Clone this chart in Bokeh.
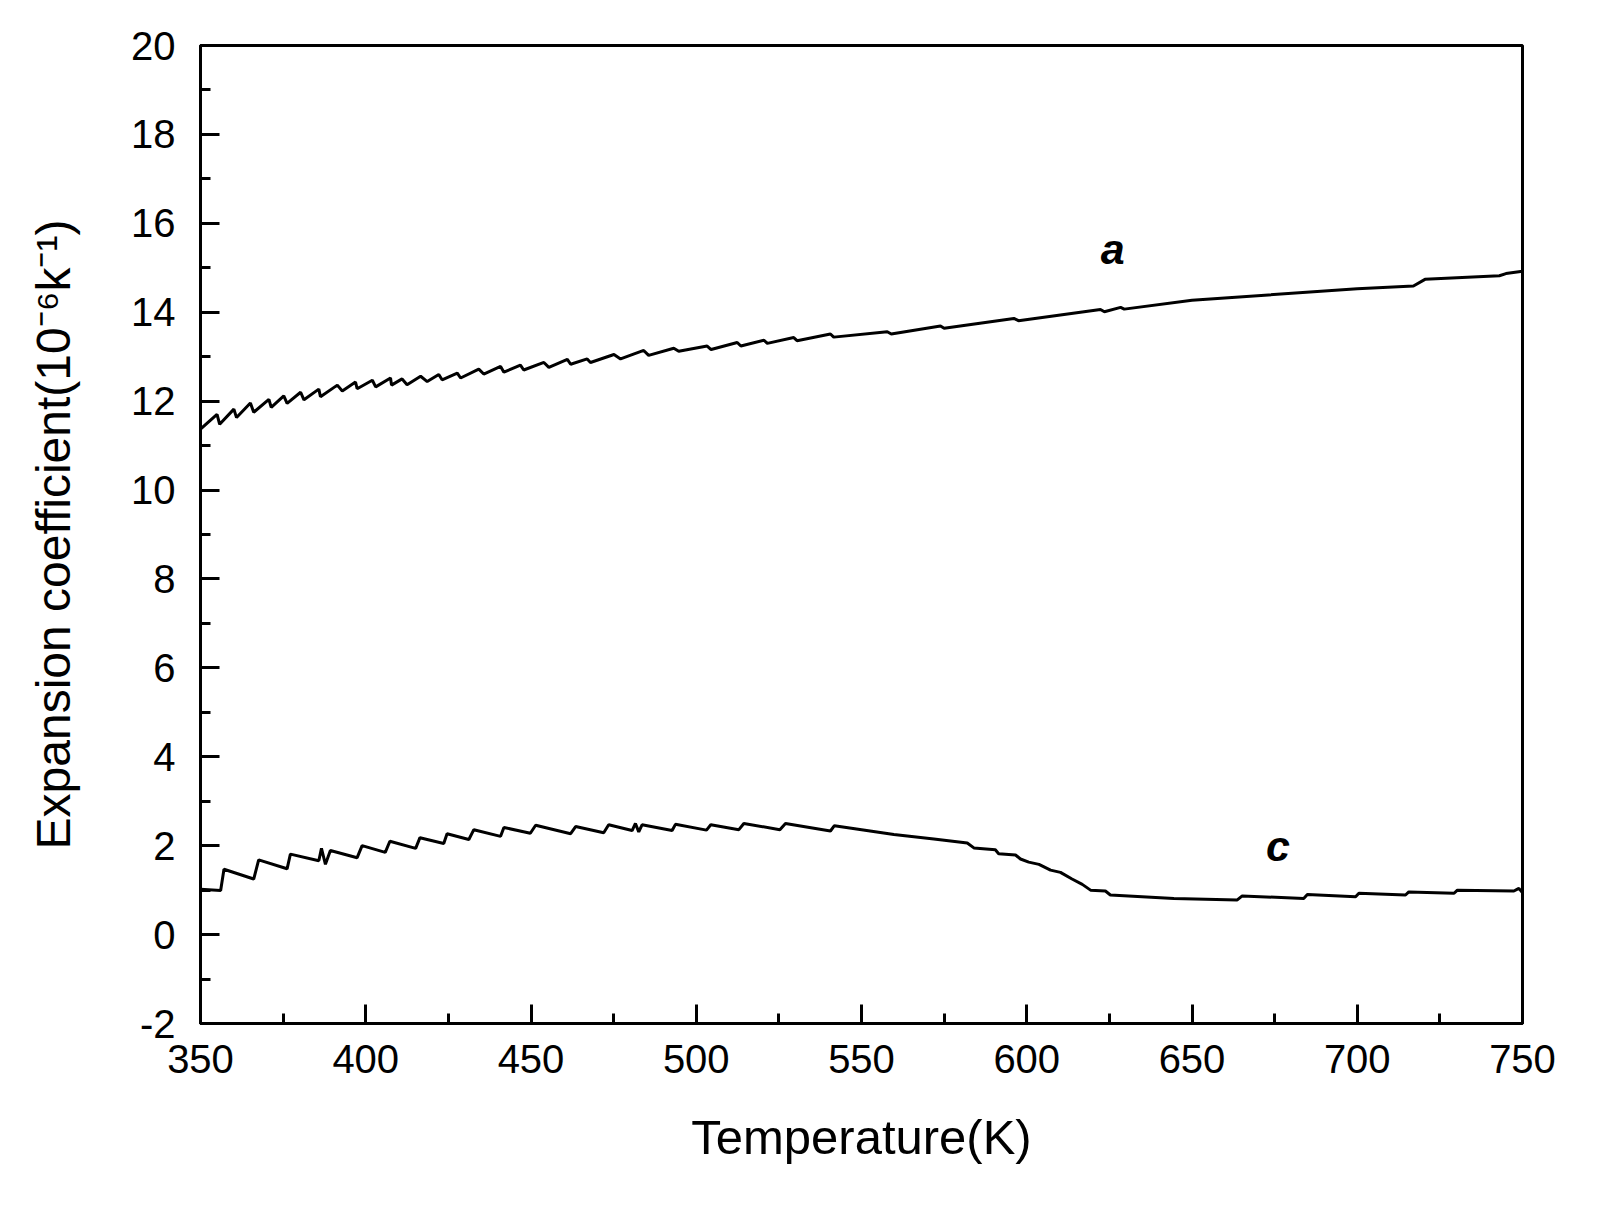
from bokeh.plotting import figure
from bokeh.models import SingleIntervalTicker, ColumnDataSource
from bokeh.embed import file_html
from bokeh.resources import INLINE
from bokeh.core.properties import value

# ---- data ----
temp_a = [350, 355.0, 355.8, 360.1, 360.9, 365.1, 366.1, 370.7, 371.4, 375.2, 376.2,
          380.3, 381.3, 385.8, 386.3, 391.4, 392.9, 396.9, 397.4, 402.0, 403.0,
          407.5, 407.8, 411.0, 412.5, 416.6, 418.6, 422.1, 423.1, 427.7, 428.7,
          434.2, 435.7, 440.8, 441.8, 446.8, 447.8, 453.9, 455.4, 461.0, 462.0,
          467.0, 468.0, 475.1, 477.1, 484.1, 485.6, 493.2, 494.7, 503.3, 504.5,
          512.4, 513.5, 520.5, 521.5, 529.5, 530.5, 540.6, 541.6, 557.8, 559.0,
          573.9, 575.0, 596.1, 597.5, 622.3, 623.5, 628.4, 629.5, 650.0, 700.0,
          717.0, 720.5, 743.0, 745.0, 750.0]
coef_a = [11.37, 11.70, 11.48, 11.82, 11.63, 11.96, 11.75, 12.04, 11.86, 12.12, 11.95,
          12.20, 12.03, 12.27, 12.10, 12.36, 12.23, 12.43, 12.28, 12.47, 12.32,
          12.52, 12.36, 12.50, 12.37, 12.56, 12.44, 12.60, 12.48, 12.63, 12.52,
          12.72, 12.61, 12.78, 12.65, 12.81, 12.70, 12.87, 12.76, 12.94, 12.83,
          12.95, 12.87, 13.05, 12.95, 13.14, 13.03, 13.19, 13.12, 13.24, 13.16,
          13.32, 13.24, 13.37, 13.30, 13.43, 13.36, 13.51, 13.44, 13.56, 13.51,
          13.69, 13.64, 13.86, 13.81, 14.06, 14.01, 14.11, 14.07, 14.27, 14.53,
          14.59, 14.74, 14.82, 14.87, 14.92]

temp_c = [350, 356.1, 357.1, 366.1, 367.6, 376.2, 377.2, 385.8, 386.6, 387.8, 389.3,
          397.4, 398.9, 405.9, 407.3, 415.1, 416.4, 423.6, 424.6, 431.2, 432.7,
          440.8, 441.8, 449.8, 451.4, 462.0, 463.5, 472.0, 473.5, 480.6, 481.6,
          482.6, 483.6, 492.7, 493.7, 503.1, 504.4, 512.9, 514.4, 525.3, 527.0,
          540.6, 541.8, 559.8, 571.9, 582.0, 584.0, 590.5, 591.5, 596.6, 598.1,
          600.6, 603.7, 607.2, 610.2, 613.7, 616.8, 619.3, 623.8, 625.3, 644.5,
          663.7, 665.2, 683.8, 684.9, 699.5, 700.5, 714.6, 715.6, 729.3, 730.3,
          747.4, 748.9, 749.9, 750.0]
coef_c = [1.02, 0.99, 1.47, 1.25, 1.68, 1.48, 1.81, 1.66, 1.94, 1.58, 1.89,
          1.73, 2.00, 1.85, 2.10, 1.94, 2.18, 2.05, 2.27, 2.14, 2.36,
          2.21, 2.41, 2.28, 2.46, 2.27, 2.43, 2.29, 2.47, 2.34, 2.50,
          2.31, 2.47, 2.34, 2.48, 2.35, 2.47, 2.36, 2.50, 2.36, 2.50,
          2.33, 2.45, 2.25, 2.15, 2.06, 1.95, 1.91, 1.82, 1.79, 1.70,
          1.63, 1.58, 1.45, 1.40, 1.25, 1.13, 1.00, 0.98, 0.89, 0.81,
          0.78, 0.87, 0.81, 0.90, 0.85, 0.93, 0.89, 0.96, 0.93, 1.00,
          0.98, 1.04, 0.95, 1.00]

curve_names = ["a", "c"]
name_x = [626, 676]
name_y = [15.43, 2.0]

x_title = "Temperature(K)"
y_title = "Expansion coefficient(10\u207b\u2076k\u207b\u00b9)"

FONT = "Liberation Sans"

W, H = 1590, 1200
p = figure(width=W, height=H, output_backend="svg", toolbar_location=None,
           x_range=(350, 750), y_range=(-2, 20),
           min_border_left=200, min_border_right=W - 1522,
           min_border_top=45, min_border_bottom=H - 1023)

p.background_fill_color = "white"
p.border_fill_color = "white"
p.outline_line_color = "black"
p.outline_line_width = 3
p.xgrid.visible = False
p.ygrid.visible = False

p.line(temp_a, coef_a, line_color="black", line_width=3)
p.line(temp_c, coef_c, line_color="black", line_width=3)

src = ColumnDataSource(dict(x=name_x, y=name_y, t=curve_names))
p.text(x="x", y="y", text="t", source=src, text_font=value(FONT),
       text_font_style="bold italic", text_font_size="43px",
       text_align="center", text_baseline="middle", text_color="black")

p.xaxis.ticker = SingleIntervalTicker(interval=50, num_minor_ticks=2)
p.yaxis.ticker = SingleIntervalTicker(interval=2, num_minor_ticks=2)
p.yaxis.major_label_overrides = {-2: "-2"}

for ax in (p.xaxis, p.yaxis):
    ax.axis_line_width = 3
    ax.axis_line_color = "black"
    ax.major_tick_line_width = 3
    ax.minor_tick_line_width = 3
    ax.major_tick_in = 19
    ax.major_tick_out = 0
    ax.minor_tick_in = 10
    ax.minor_tick_out = 0
    ax.major_label_text_font = FONT
    ax.major_label_text_font_size = "40px"
    ax.major_label_text_color = "black"
    ax.axis_label_text_font = FONT
    ax.axis_label_text_font_style = "normal"
    ax.axis_label_text_color = "black"

p.xaxis.axis_label = x_title
p.yaxis.axis_label = y_title
p.xaxis.axis_label_text_font_size = "49px"
p.yaxis.axis_label_text_font_size = "48px"
p.xaxis.major_label_standoff = 21
p.yaxis.major_label_standoff = 25
p.xaxis.axis_label_standoff = 34
p.yaxis.axis_label_standoff = 48

open("out.html", "w").write(file_html(p, INLINE))
